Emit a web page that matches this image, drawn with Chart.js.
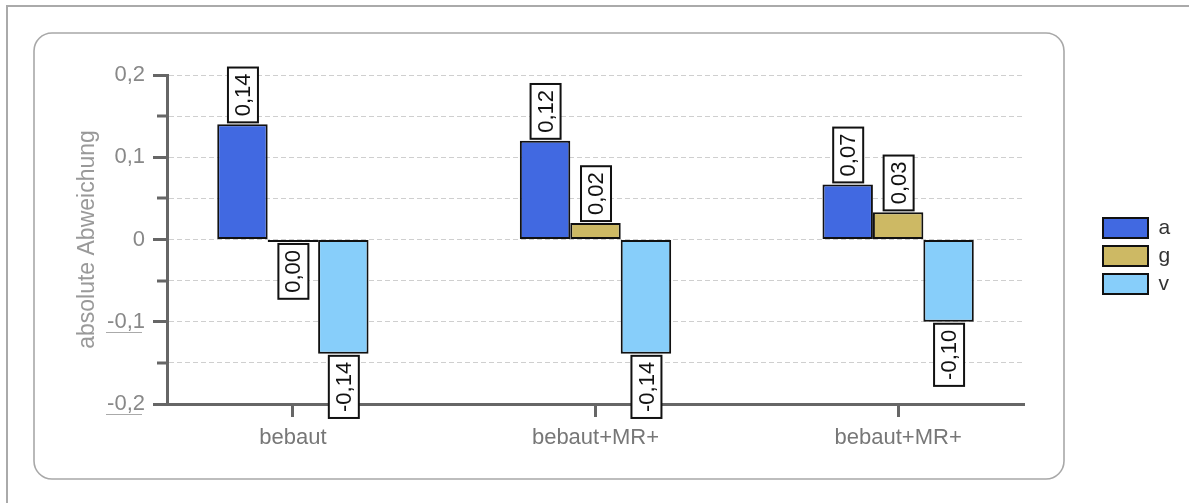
<!DOCTYPE html>
<html>
<head>
<meta charset="utf-8">
<script src="https://cdn.jsdelivr.net/npm/chart.js@4.4.1/dist/chart.umd.min.js"></script>
<style>
  html, body { margin: 0; padding: 0; background: #fff; }
  #wrap { width: 1189px; height: 503px; position: relative; }
</style>
</head>
<body>
<div id="wrap"><canvas id="c"></canvas></div>
<script>
// Categories along the x axis
const categories = ['bebaut', 'bebaut+MR+', 'bebaut+MR+'];
// Series (legend entries)
const seriesNames = ['a', 'g', 'v'];
const valuesA = [0.14, 0.12, 0.067];
const valuesG = [-0.003, 0.02, 0.033];
const valuesV = [-0.139, -0.139, -0.10];
// Value axis range and step
const yMin = -0.2;
const yMax = 0.2;
const yStep = 0.05;
const yTitle = 'absolute Abweichung';

const FONT = "'Liberation Sans', Arial, sans-serif";
const seriesColors = ['#4169e1', '#cdb964', '#87cefa'];
const seriesValues = [valuesA, valuesG, valuesV];

const fmt2 = v => (Math.round(v * 100) / 100).toFixed(2).replace('.', ',');
const isMajor = v => Math.round(v * 20) % 2 === 0;

// Page frame and the rounded panel behind the plot
const framePlugin = {
  id: 'frame',
  beforeDraw(chart) {
    const ctx = chart.ctx;
    ctx.save();
    ctx.fillStyle = '#fff';
    ctx.fillRect(0, 0, chart.width, chart.height);
    ctx.strokeStyle = '#aaa';
    ctx.lineWidth = 2;
    ctx.beginPath();
    ctx.moveTo(7, chart.height);
    ctx.lineTo(7, 6);
    ctx.lineTo(chart.width, 6);
    ctx.stroke();
    ctx.lineWidth = 1.6;
    ctx.strokeStyle = '#a8a8a8';
    ctx.beginPath();
    ctx.roundRect(34, 33, 1030, 446, 18);
    ctx.stroke();
    ctx.restore();
  }
};

// Short minor ticks, label underlines and the boxed value labels
const decorPlugin = {
  id: 'decor',
  afterDraw(chart) {
    const ctx = chart.ctx;
    const ys = chart.scales.y;
    ctx.save();
    // minor ticks on the value axis
    ctx.strokeStyle = '#666';
    ctx.lineWidth = 3;
    ys.ticks.forEach(t => {
      if (!isMajor(t.value)) {
        const py = Math.round(ys.getPixelForValue(t.value));
        ctx.beginPath();
        ctx.moveTo(ys.right - 10, py);
        ctx.lineTo(ys.right, py);
        ctx.stroke();
      }
    });
    // underline beneath the negative tick labels
    ctx.strokeStyle = '#aaa';
    ctx.lineWidth = 1;
    ys.ticks.forEach(t => {
      if (isMajor(t.value) && t.value < -1e-9) {
        const py = Math.round(ys.getPixelForValue(t.value)) + 10.5;
        ctx.beginPath();
        ctx.moveTo(106, py);
        ctx.lineTo(142, py);
        ctx.stroke();
      }
    });
    // value labels: rotated text in white boxes at the bar ends
    ctx.font = '22px ' + FONT;
    chart.data.datasets.forEach((ds, di) => {
      const meta = chart.getDatasetMeta(di);
      meta.data.forEach((bar, i) => {
        const v = ds.data[i].y;
        const text = fmt2(v);
        const tw = ctx.measureText(text).width;
        const bw = 30, bh = tw + 12;
        const cx = bar.x + 0.5;
        let top;
        if (v >= 0) top = bar.y - 2 - bh; else top = bar.y + 2;
        ctx.fillStyle = '#fff';
        ctx.fillRect(cx - bw / 2, top, bw, bh);
        ctx.strokeStyle = '#111';
        ctx.lineWidth = 2;
        ctx.strokeRect(cx - bw / 2, top, bw, bh);
        ctx.save();
        ctx.translate(cx, top + bh / 2);
        ctx.rotate(-Math.PI / 2);
        ctx.fillStyle = '#111';
        ctx.textAlign = 'center';
        ctx.textBaseline = 'middle';
        ctx.fillText(text, 0, 1);
        ctx.restore();
      });
    });
    ctx.restore();
  }
};

const datasets = seriesNames.map((name, si) => ({
  label: name,
  data: seriesValues[si].map((v, i) => ({ x: i, y: v })),
  backgroundColor: seriesColors[si],
  borderColor: '#111',
  borderWidth: 2,
  borderSkipped: false,
  categoryPercentage: 0.5,
  barPercentage: 1.0
}));

new Chart(document.getElementById('c'), {
  type: 'bar',
  data: { datasets },
  plugins: [framePlugin, decorPlugin],
  options: {
    responsive: true,
    maintainAspectRatio: false,
    animation: false,
    events: [],
    layout: { padding: { left: 0, top: 75, right: 8.8, bottom: 66 } },
    plugins: {
      tooltip: { enabled: false },
      legend: {
        position: 'right',
        align: 'center',
        labels: {
          boxWidth: 45,
          boxHeight: 20,
          padding: 7,
          color: '#333',
          font: { family: FONT, size: 21 }
        }
      }
    },
    scales: {
      x: {
        type: 'linear',
        min: -0.416,
        max: 2.416,
        offset: false,
        afterBuildTicks: s => { s.ticks = categories.map((_, i) => ({ value: i })); },
        afterFit: s => { s.height = 33; },
        ticks: {
          callback: v => categories[v],
          color: '#777',
          font: { family: FONT, size: 22 },
          // mirrored labels are not clipped to the short axis box;
          // the negative padding moves them back below the axis
          mirror: true,
          padding: -47.6,
          maxRotation: 0,
          autoSkip: false
        },
        grid: {
          offset: false,
          drawOnChartArea: false,
          drawTicks: true,
          tickLength: 13,
          tickWidth: 3,
          tickColor: '#666'
        },
        border: { display: true, color: '#666', width: 3 }
      },
      y: {
        type: 'linear',
        min: yMin,
        max: yMax,
        afterFit: s => { s.width = 167; },
        ticks: {
          stepSize: yStep,
          callback: value => {
            if (!isMajor(value)) return '';
            const v = Math.round(value * 20) / 20;
            return v === 0 ? '0' : String(v).replace('.', ',');
          },
          color: '#888',
          font: { family: FONT, size: 22 },
          padding: 8
        },
        grid: {
          color: '#cfcfcf',
          lineWidth: 1,
          drawTicks: true,
          tickLength: 14,
          tickWidth: 3,
          tickColor: c => (c.tick && isMajor(c.tick.value)) ? '#666' : 'rgba(0,0,0,0)'
        },
        border: { display: true, color: '#666', width: 3, dash: [5, 3] },
        title: {
          display: true,
          text: yTitle,
          color: '#999',
          font: { family: FONT, size: 23 },
          padding: { top: 74, bottom: 0 }
        }
      },
      pad: {
        type: 'linear',
        position: 'right',
        display: true,
        ticks: { display: false },
        grid: { display: false, drawTicks: false },
        border: { display: false },
        afterFit: s => { s.width = 72; }
      }
    }
  }
});
</script>
</body>
</html>
